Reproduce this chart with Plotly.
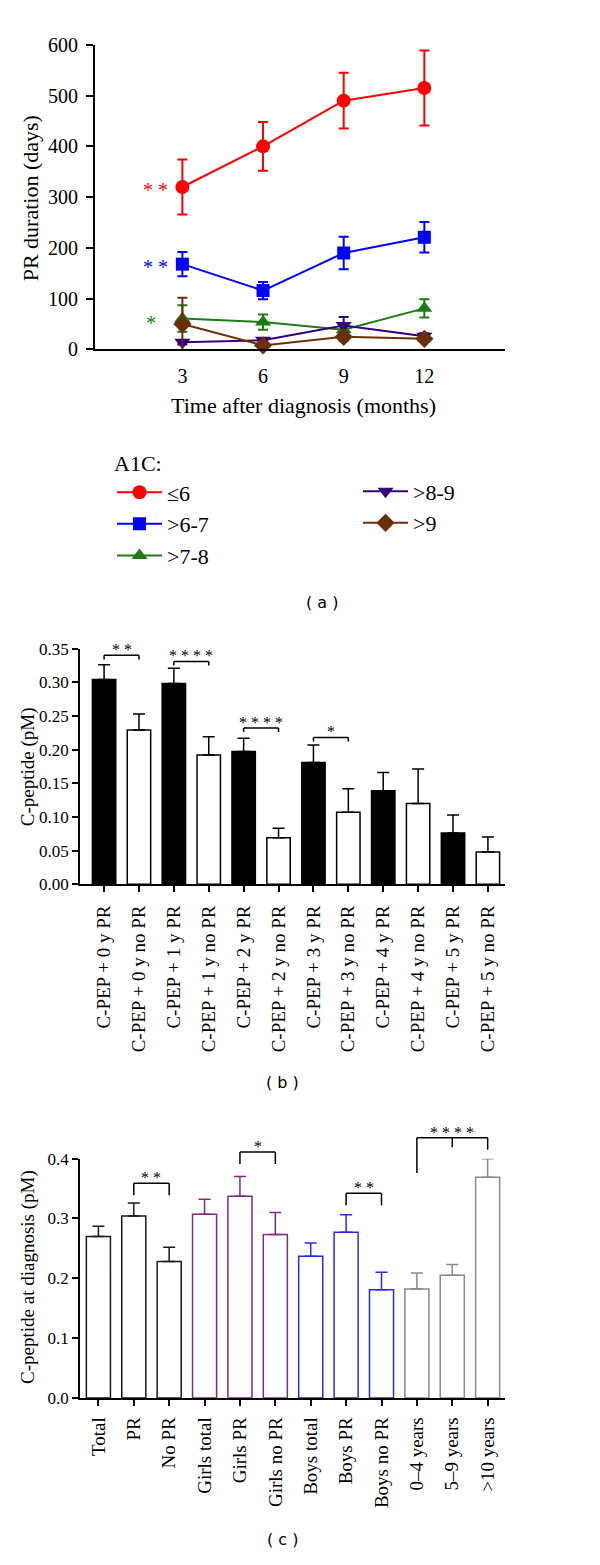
import plotly.graph_objects as go

# ---------------- data ----------------
# Panel (a)
months = [3, 6, 9, 12]
a1c_labels = ["≤6", ">6-7", ">7-8", ">8-9", ">9"]
pr_le6 = [320, 400, 490, 515]
pr_le6_err = [54, 48, 55, 74]
pr_6_7 = [168, 116, 190, 221]
pr_6_7_err = [24, 17, 32, 30]
pr_7_8 = [61, 54, 39, 81]
pr_7_8_err = [26, 15, 8, 18]
pr_8_9 = [14, 18, 47, 26]
pr_8_9_err = [4, 4, 17, 6]
pr_gt9 = [50, 8, 25, 21]
pr_gt9_err = [52, 4, 8, 5]

# Panel (b)
b_labels = ["C-PEP + 0 y PR", "C-PEP + 0 y no PR", "C-PEP + 1 y PR", "C-PEP + 1 y no PR",
            "C-PEP + 2 y PR", "C-PEP + 2 y no PR", "C-PEP + 3 y PR", "C-PEP + 3 y no PR",
            "C-PEP + 4 y PR", "C-PEP + 4 y no PR", "C-PEP + 5 y PR", "C-PEP + 5 y no PR"]
b_values = [0.304, 0.229, 0.298, 0.192, 0.197, 0.069, 0.181, 0.107, 0.139, 0.120, 0.076, 0.048]
b_errors = [0.022, 0.024, 0.023, 0.027, 0.020, 0.014, 0.026, 0.035, 0.027, 0.051, 0.027, 0.022]
b_ticks = [0.00, 0.05, 0.10, 0.15, 0.20, 0.25, 0.30, 0.35]

# Panel (c)
c_labels = ["Total", "PR", "No PR", "Girls total", "Girls PR", "Girls no PR",
            "Boys total", "Boys PR", "Boys no PR", "0–4 years", "5–9 years", ">10 years"]
c_values = [0.270, 0.304, 0.228, 0.307, 0.337, 0.273, 0.237, 0.277, 0.181, 0.182, 0.205, 0.369]
c_errors = [0.017, 0.022, 0.024, 0.025, 0.033, 0.037, 0.022, 0.029, 0.029, 0.027, 0.018, 0.031]
c_ticks = [0.0, 0.1, 0.2, 0.3, 0.4]

# ---------------- styling ----------------
SERIF = "Liberation Serif"
SANS = "DejaVu Sans"
W, H = 600, 1565

def px_x(p):
    return p / W

def px_y(p):
    return 1 - p / H

A_DOM_X = [px_x(95), px_x(505)]
A_DOM_Y = [px_y(343.3), px_y(34.3)]
B_DOM_X = [px_x(80), px_x(505)]
B_DOM_Y = [px_y(885.7), px_y(646.7)]
C_DOM_X = [px_x(80), px_x(505)]
C_DOM_Y = [px_y(1406.7), px_y(1164)]
C_MAX = 0.4

fig = go.Figure()

series = [
    (pr_le6, pr_le6_err, "#ff0000", "circle", 14, "legend"),
    (pr_6_7, pr_6_7_err, "#0000ff", "square", 13, "legend"),
    (pr_7_8, pr_7_8_err, "#1e7a12", "triangle-up", 14, "legend"),
    (pr_8_9, pr_8_9_err, "#33007a", "triangle-down", 14, "legend2"),
    (pr_gt9, pr_gt9_err, "#6b2f06", "diamond", 14, "legend2"),
]
for (vals, errs, col, sym, size, leg), name in zip(series, a1c_labels):
    fig.add_trace(go.Scatter(
        x=months, y=vals, name=name, mode="lines+markers",
        line=dict(color=col, width=2),
        marker=dict(symbol=sym, size=size, color=col),
        error_y=dict(type="data", array=errs, visible=True, color=col, thickness=2, width=5),
        cliponaxis=False, legend=leg, xaxis="x", yaxis="y",
    ))

# Panel (b) bars
b_fill = ["black" if "no PR" not in l else "white" for l in b_labels]
fig.add_trace(go.Bar(
    x=b_labels, y=b_values, width=0.67,
    marker=dict(color=b_fill, line=dict(color="black", width=1.5)),
    error_y=dict(type="data", array=b_errors, arrayminus=[0] * len(b_errors), symmetric=False,
                 color="black", thickness=1.5, width=6),
    showlegend=False, xaxis="x2", yaxis="y2",
))

# Panel (c) bars in colour groups
c_groups = [(0, 3, "#1a1a1a"), (3, 6, "#7e2a82"), (6, 9, "#2b2bdc"), (9, 12, "#8a8a8a")]
for s, e, col in c_groups:
    fig.add_trace(go.Bar(
        x=c_labels[s:e], y=c_values[s:e], width=0.68,
        marker=dict(color="white", line=dict(color=col, width=1.5)),
        error_y=dict(type="data", array=c_errors[s:e], arrayminus=[0] * (e - s), symmetric=False,
                     color=col, thickness=1.5, width=6),
        showlegend=False, xaxis="x3", yaxis="y3",
    ))

axis_common = dict(showline=True, linecolor="black", showgrid=False, zeroline=False,
                   tickcolor="black", ticks="outside")

fig.update_layout(
    width=W, height=H, margin=dict(l=0, r=0, t=0, b=0),
    paper_bgcolor="white", plot_bgcolor="white",
    barmode="overlay",
    font=dict(family=SERIF, color="black"),
    xaxis=dict(domain=A_DOM_X, anchor="y", range=[-0.25, 15], tickvals=months,
               showline=True, linecolor="black", linewidth=2, showgrid=False, zeroline=False,
               ticks="", ticklabelstandoff=8, tickfont=dict(size=20, family=SERIF)),
    yaxis=dict(domain=A_DOM_Y, anchor="x", range=[0, 600], tickvals=[0, 100, 200, 300, 400, 500, 600],
               linewidth=2, ticklen=7, tickwidth=2, ticklabelstandoff=4,
               tickfont=dict(size=20, family=SERIF), **axis_common),
    xaxis2=dict(domain=B_DOM_X, anchor="y2", range=[-0.69, 11.49], type="category",
                categoryorder="array", categoryarray=b_labels, tickangle=-90,
                linewidth=1.5, ticklen=6, tickwidth=1.5, ticklabelstandoff=6,
                tickfont=dict(size=19, family=SERIF), **axis_common),
    yaxis2=dict(domain=B_DOM_Y, anchor="x2", range=[0, 0.35], tickvals=b_ticks, tickformat=".2f",
                linewidth=1.5, ticklen=6, tickwidth=1.5, tickfont=dict(size=17, family=SERIF), **axis_common),
    xaxis3=dict(domain=C_DOM_X, anchor="y3", range=[-0.52, 11.49], type="category",
                categoryorder="array", categoryarray=c_labels, tickangle=-90,
                linewidth=1.5, ticklen=6, tickwidth=1.5, ticklabelstandoff=4,
                tickfont=dict(size=19, family=SERIF), **axis_common),
    yaxis3=dict(domain=C_DOM_Y, anchor="x3", range=[0, C_MAX], tickvals=c_ticks, tickformat=".1f",
                linewidth=1.5, ticklen=6, tickwidth=1.5, tickfont=dict(size=17, family=SERIF), **axis_common),
    legend=dict(x=px_x(112), y=px_y(438), xanchor="left", yanchor="top", itemwidth=45,
                title=dict(text="A1C:", font=dict(size=22, family=SERIF)),
                font=dict(size=22, family=SERIF), tracegroupgap=0, bgcolor="rgba(0,0,0,0)"),
    legend2=dict(x=px_x(358), y=px_y(466), xanchor="left", yanchor="top", itemwidth=45,
                 font=dict(size=22, family=SERIF), tracegroupgap=0, bgcolor="rgba(0,0,0,0)"),
)

ann = []
def label(text, x, y, size, family=SERIF, angle=0):
    ann.append(dict(text=text, x=px_x(x), y=px_y(y), xref="paper", yref="paper",
                    xanchor="center", yanchor="middle", showarrow=False, textangle=angle,
                    font=dict(size=size, family=family)))

# axis titles
label("Time after diagnosis (months)", 303, 400, 22)
label("PR duration (days)", 30, 190, 22, angle=-90)
label("C-peptide (pM)", 28, 767, 19, angle=-90)
label("C-peptide at diagnosis (pM)", 28, 1284, 19, angle=-90)
# panel labels
label("( a )", 322, 600, 16, SANS)
label("( b )", 282, 1087, 16, SANS)
label("( c )", 282, 1550, 16, SANS)

# significance stars panel (a)
for txt, xx, yy, col in [("* *", 2.0, 320, "#ff0000"), ("* *", 2.0, 168, "#0000ff"), ("*", 1.85, 59, "#1e7a12")]:
    ann.append(dict(text=txt, x=xx, y=yy, xref="x", yref="y", showarrow=False,
                    xanchor="center", yanchor="middle", yshift=-3,
                    font=dict(size=20, family=SERIF, color=col)))

shapes = []
# panel (b) brackets
b_brackets = [(0, 1, 0.340, "* *"), (2, 3, 0.331, "* * * *"), (4, 5, 0.232, "* * * *"), (6, 7, 0.218, "*")]
for i0, i1, h, txt in b_brackets:
    x0, x1 = b_labels[i0], b_labels[i1]
    drop = 0.006
    shapes.append(dict(type="line", xref="x2", yref="y2", x0=x0, x1=x1, y0=h, y1=h,
                       line=dict(color="black", width=1.5)))
    for xx in (x0, x1):
        shapes.append(dict(type="line", xref="x2", yref="y2", x0=xx, x1=xx, y0=h, y1=h - drop,
                           line=dict(color="black", width=1.5)))
    ann.append(dict(text=txt, x=(i0 + i1) / 2, y=h, xref="x2", yref="y2", showarrow=False,
                    xanchor="center", yanchor="bottom", yshift=-5,
                    font=dict(size=16, family=SERIF, color="black")))

# panel (c) brackets (paper-based vertical placement so they can sit above the axis)
def cy(v):
    return C_DOM_Y[0] + v / C_MAX * (C_DOM_Y[1] - C_DOM_Y[0])

c_brackets = [(1, 2, 0.359, "* *"), (4, 5, 0.411, "*"), (7, 8, 0.342, "* *")]
for i0, i1, h, txt in c_brackets:
    x0, x1 = c_labels[i0], c_labels[i1]
    drop = 0.02
    shapes.append(dict(type="line", xref="x3", yref="paper", x0=x0, x1=x1, y0=cy(h), y1=cy(h),
                       line=dict(color="black", width=1.5)))
    for xx in (x0, x1):
        shapes.append(dict(type="line", xref="x3", yref="paper", x0=xx, x1=xx, y0=cy(h), y1=cy(h - drop),
                           line=dict(color="black", width=1.5)))
    ann.append(dict(text=txt, x=(i0 + i1) / 2, y=cy(h), xref="x3", yref="paper", showarrow=False,
                    xanchor="center", yanchor="bottom", yshift=-5,
                    font=dict(size=16, family=SERIF, color="black")))

# age bracket
h = 0.435
shapes.append(dict(type="line", xref="x3", yref="paper", x0=c_labels[9], x1=c_labels[11], y0=cy(h), y1=cy(h),
                   line=dict(color="black", width=1.5)))
for idx, low in [(9, 0.376), (10, 0.419), (11, 0.415)]:
    shapes.append(dict(type="line", xref="x3", yref="paper", x0=c_labels[idx], x1=c_labels[idx],
                       y0=cy(h), y1=cy(low), line=dict(color="black", width=1.5)))
ann.append(dict(text="* * * *", x=10, y=cy(h), xref="x3", yref="paper", showarrow=False,
                xanchor="center", yanchor="bottom", yshift=-5,
                font=dict(size=16, family=SERIF, color="black")))

fig.update_layout(annotations=ann, shapes=shapes)
fig.write_html("out.html", config={"displayModeBar": False},
               post_script="document.body.style.margin='0';")
